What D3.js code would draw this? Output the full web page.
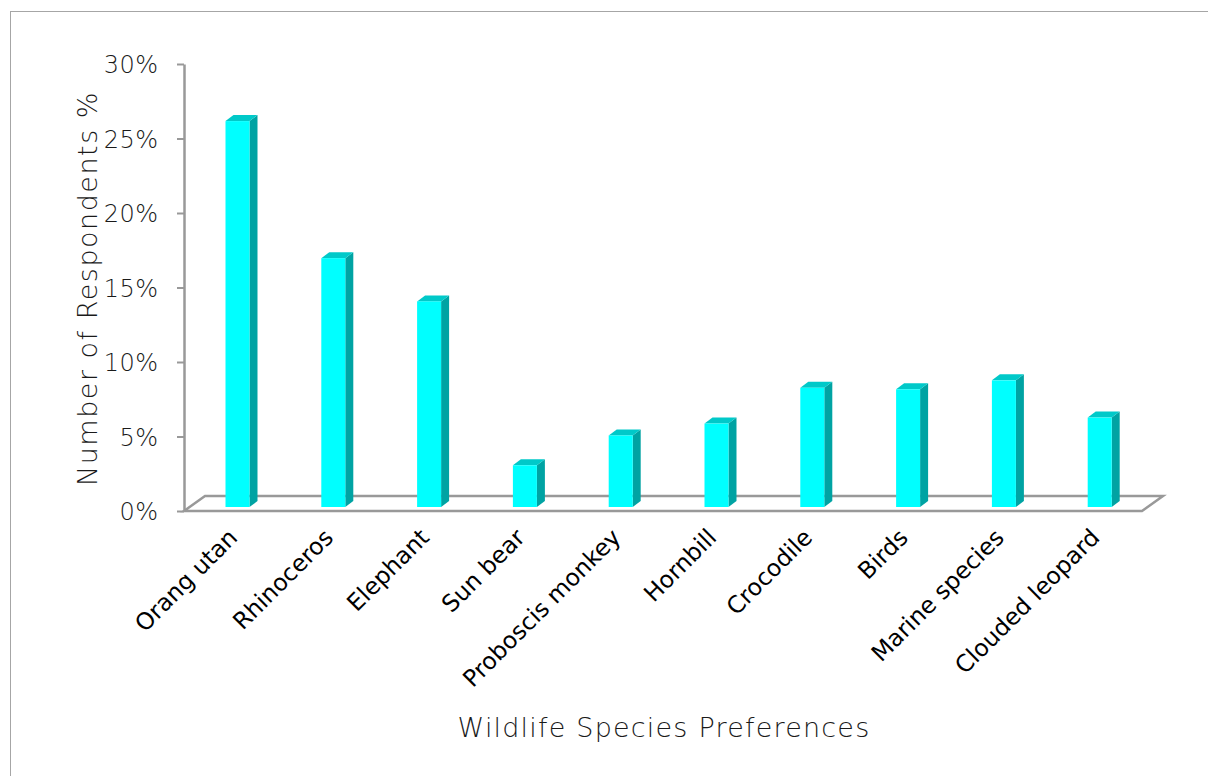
<!DOCTYPE html>
<html>
<head>
<meta charset="utf-8">
<script src="https://cdn.jsdelivr.net/npm/d3@7"></script>
<style>
  html, body { margin: 0; padding: 0; background: #fff; }
  svg { display: block; }
  .tick-label, .axis-title { font-family: "DejaVu Sans", sans-serif; font-weight: 200; fill: #1a1a1a; }
  .cat-label { font-family: "DejaVu Sans", sans-serif; fill: #000; }
</style>
</head>
<body>
<svg id="chart" width="1208" height="776"></svg>
<script>
// Share of respondents naming each species as their preference (%)
const categories = ["Orang utan", "Rhinoceros", "Elephant", "Sun bear", "Proboscis monkey",
                    "Hornbill", "Crocodile", "Birds", "Marine species", "Clouded leopard"];
const values = [25.9, 16.7, 13.8, 2.8, 4.8, 5.6, 8.0, 7.9, 8.5, 6.0];
const yTicks = [0, 5, 10, 15, 20, 25, 30];

const svg = d3.select("#chart");

// outer frame
svg.append("rect")
  .attr("x", 10.5).attr("y", 11.5)
  .attr("width", 1220).attr("height", 800)
  .attr("fill", "none").attr("stroke", "#a6a6a6").attr("stroke-width", 1);

const plotLeft = 184, plotRight = 1142, plotTop = 64, plotBottom = 511;
// floor depth (oblique projection)
const fdx = 21, fdy = -15;
// bar placement inside the floor depth, and bar thickness
const bdx = 5.6, bdy = -4;
const sdx = 8, sdy = -6;
const barW = 24;

const x = d3.scaleBand().domain(categories).range([plotLeft, plotRight]);
const y = d3.scaleLinear().domain([0, 30]).range([plotBottom, plotTop]);

const axisColor = "#999";

// floor
svg.append("path")
  .attr("d", `M${plotLeft},${plotBottom} L${plotRight},${plotBottom} L${plotRight + fdx},${plotBottom + fdy} L${plotLeft + fdx},${plotBottom + fdy} Z`)
  .attr("fill", "none").attr("stroke", axisColor).attr("stroke-width", 2.5)
  .attr("stroke-linejoin", "miter");

// value axis
const yAxis = d3.axisLeft(y).tickValues(yTicks).tickSize(7).tickFormat(d => d + "%").tickSizeOuter(0);
const gy = svg.append("g").attr("transform", `translate(${plotLeft},0)`).call(yAxis);
gy.select(".domain").attr("stroke", axisColor).attr("stroke-width", 2.5);
gy.selectAll(".tick line").attr("stroke", axisColor).attr("stroke-width", 2);
gy.selectAll(".tick text")
  .attr("class", "tick-label")
  .attr("x", -25.5).attr("dy", "0.36em")
  .style("font-size", "24px")
  .style("letter-spacing", "0.5px");

// bars: front face, side face, top face
const bars = svg.append("g").selectAll("g").data(categories).join("g");
bars.each(function (c, i) {
  const g = d3.select(this);
  const cx = x(c) + x.bandwidth() / 2 + bdx;
  const x0 = cx - barW / 2, x1 = cx + barW / 2;
  const yb = y(0) + bdy, yt = y(values[i]) + bdy;
  g.append("path") // side
    .attr("d", `M${x1},${yt} L${x1 + sdx},${yt + sdy} L${x1 + sdx},${yb + sdy} L${x1},${yb} Z`)
    .attr("fill", "#00a3a3");
  g.append("path") // top
    .attr("d", `M${x0},${yt} L${x0 + sdx},${yt + sdy} L${x1 + sdx},${yt + sdy} L${x1},${yt} Z`)
    .attr("fill", "#00c9c9");
  g.append("rect") // front
    .attr("x", x0).attr("y", yt).attr("width", barW).attr("height", yb - yt)
    .attr("fill", "#00ffff");
});

// category labels, rotated
svg.append("g").selectAll("text").data(categories).join("text")
  .attr("class", "cat-label")
  .attr("text-anchor", "end")
  .attr("transform", c => `translate(${x(c) + x.bandwidth() / 2 + 7},${plotBottom + 28}) rotate(-45)`)
  .style("font-size", "23.5px")
  .text(c => c);

// axis titles
svg.append("text")
  .attr("class", "axis-title")
  .attr("text-anchor", "middle")
  .attr("transform", `translate(97,${(plotTop + plotBottom) / 2 + 1}) rotate(-90)`)
  .style("font-size", "27px")
  .style("letter-spacing", "1.5px")
  .text("Number of Respondents %");

svg.append("text")
  .attr("class", "axis-title")
  .attr("text-anchor", "middle")
  .attr("x", 664).attr("y", 737)
  .style("font-size", "27px")
  .style("letter-spacing", "1.2px")
  .text("Wildlife Species Preferences");
</script>
</body>
</html>
